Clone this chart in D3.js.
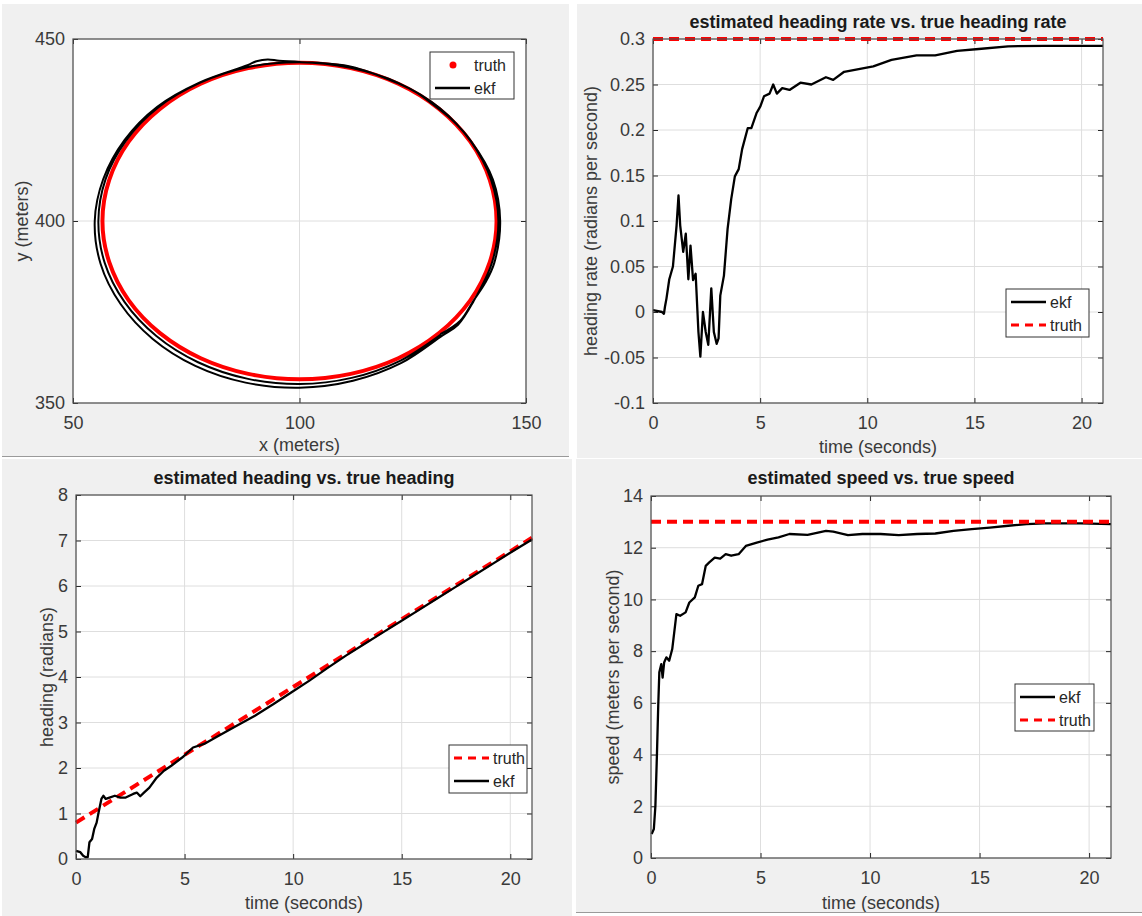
<!DOCTYPE html>
<html>
<head>
<meta charset="utf-8">
<script src="https://cdn.jsdelivr.net/npm/d3@7/dist/d3.min.js"></script>
<style>
    body { margin: 0; background: #fff; }
    svg text { font-family: "Liberation Sans", Arial, Helvetica, sans-serif; }
</style>
</head>
<body>
<div id="figure"></div>
<script>
// Config
const width = 1142;
const height = 916;

// Position track (x, y in meters)
const truthTrack = [
    [143.5, 400], [142.0, 411.3], [137.7, 421.8], [130.8, 430.8], [121.8, 437.7], [111.3, 442.0],
    [100, 443.5], [88.7, 442.0], [78.2, 437.7], [69.2, 430.8], [62.3, 421.8], [58.0, 411.3],
    [56.5, 400], [58.0, 388.7], [62.3, 378.2], [69.2, 369.2], [78.2, 362.3], [88.7, 358.0],
    [100, 356.5], [111.3, 358.0], [121.8, 362.3], [130.8, 369.2], [137.7, 378.2], [142.0, 388.7]
];
const ekfTrack = [
    [131.1, 368.9], [135.5, 372.6], [138.3, 377.9], [141.0, 383.0], [143.0, 388.5], [144.3, 400.0],
    [142.7, 411.4], [137.9, 421.9], [133.5, 428.0], [129.5, 432.0], [125.8, 435.3], [121.8, 437.8],
    [111.4, 442.4], [100, 443.7], [95.5, 444.0], [93.0, 444.4], [90.5, 443.9], [88.5, 442.8],
    [78.0, 438.1], [68.6, 431.4], [61.4, 422.3], [56.7, 411.6], [54.8, 400], [56.1, 388.2],
    [60.5, 377.2], [67.6, 367.6], [77.0, 360.2], [88.1, 355.6], [100, 354.2], [111.8, 356.1],
    [122.5, 361.0], [131.5, 368.5], [135.0, 371.5], [138.4, 377.9], [142.5, 388.6], [143.9, 400],
    [142.3, 411.3], [137.8, 421.9], [131.0, 431.0], [121.9, 437.9], [111.3, 442.1], [100, 443.6],
    [88.7, 442.3], [78.1, 438.0], [68.8, 431.2], [61.7, 422.1], [57.2, 411.5], [55.6, 400],
    [57.0, 388.5], [61.4, 377.7], [68.4, 368.4], [77.6, 361.2], [88.4, 356.7], [100, 355.2],
    [111.5, 356.9], [122.2, 361.6], [131.2, 368.8]
];

// Heading rate (time s, rad/s)
const rateEkf = [
    [0, 0.002], [0.42, 0], [0.51, -0.002], [0.56, 0.006], [0.63, 0.015], [0.76, 0.036], [0.93, 0.05],
    [1.1, 0.095], [1.19, 0.128], [1.27, 0.095], [1.41, 0.066], [1.53, 0.086], [1.65, 0.036],
    [1.75, 0.073], [1.87, 0.035], [1.99, 0.042], [2.12, -0.022], [2.21, -0.049], [2.33, 0],
    [2.46, -0.022], [2.58, -0.036], [2.72, 0.026], [2.84, -0.022], [2.97, -0.035], [3.06, -0.029],
    [3.14, 0.018], [3.31, 0.04], [3.48, 0.091], [3.65, 0.124], [3.82, 0.149], [4.0, 0.157],
    [4.16, 0.179], [4.42, 0.202], [4.59, 0.202], [4.84, 0.219], [5.01, 0.226], [5.18, 0.237],
    [5.44, 0.24], [5.61, 0.25], [5.78, 0.24], [6.03, 0.246], [6.37, 0.244], [6.88, 0.252],
    [7.39, 0.25], [8.07, 0.258], [8.41, 0.255], [8.92, 0.264], [9.6, 0.267], [10.28, 0.27],
    [11.13, 0.277], [12.3, 0.282], [13.17, 0.282], [14.19, 0.287], [15.2, 0.289], [16.57, 0.292],
    [18.27, 0.2924], [21, 0.2924]
];
const rateTruth = [[0, 0.3], [21, 0.3]];

// Heading (time s, rad)
const headingEkf = [
    [0, 0.18], [0.2, 0.15], [0.33, 0.07], [0.45, 0.04], [0.54, 0.04], [0.62, 0.37], [0.74, 0.44],
    [0.84, 0.66], [0.95, 0.8], [1.04, 1.02], [1.17, 1.32], [1.26, 1.39], [1.37, 1.32], [1.54, 1.35],
    [1.79, 1.39], [2.04, 1.35], [2.29, 1.35], [2.63, 1.43], [2.8, 1.46], [2.96, 1.38], [3.13, 1.46],
    [3.38, 1.57], [3.72, 1.79], [4.05, 1.94], [4.39, 2.05], [4.89, 2.23], [5.39, 2.45], [5.9, 2.53],
    [6.57, 2.71], [7.4, 2.93], [8.24, 3.15], [9.08, 3.4], [9.91, 3.66], [10.75, 3.92], [11.59, 4.2],
    [12.43, 4.47], [13.26, 4.72], [14.1, 4.97], [14.94, 5.22], [15.78, 5.47], [16.61, 5.72],
    [17.45, 5.97], [18.29, 6.22], [19.13, 6.47], [19.96, 6.72], [21, 7.02]
];
const headingTruth = [[0, 0.8], [21, 7.06]];

// Speed (time s, m/s)
const speedEkf = [
    [0.03, 0.93], [0.13, 1.12], [0.2, 2.0], [0.27, 3.96], [0.33, 5.89], [0.38, 7.18], [0.47, 7.5],
    [0.53, 6.98], [0.6, 7.56], [0.7, 7.76], [0.83, 7.63], [0.97, 8.08], [1.16, 9.43], [1.33, 9.37],
    [1.58, 9.5], [1.75, 9.88], [2.0, 10.08], [2.16, 10.53], [2.33, 10.59], [2.5, 11.3], [2.66, 11.43],
    [2.91, 11.62], [3.16, 11.58], [3.41, 11.75], [3.66, 11.69], [4.0, 11.75], [4.33, 12.07],
    [4.83, 12.2], [5.32, 12.31], [5.82, 12.4], [6.32, 12.53], [7.15, 12.5], [7.99, 12.65],
    [8.32, 12.62], [8.99, 12.49], [9.65, 12.53], [10.48, 12.53], [11.31, 12.49], [12.15, 12.53],
    [12.98, 12.55], [13.81, 12.65], [14.64, 12.72], [15.47, 12.78], [16.31, 12.85], [17.14, 12.91],
    [17.97, 12.94], [19.63, 12.94], [21, 12.91]
];
const speedTruth = [[0, 13], [21, 13]];

// Tick values
const trackXTicks = [50, 100, 150];
const trackYTicks = [350, 400, 450];
const timeTicks = [0, 5, 10, 15, 20];
const rateTicks = [-0.1, -0.05, 0, 0.05, 0.1, 0.15, 0.2, 0.25, 0.3];
const headingTicks = [0, 1, 2, 3, 4, 5, 6, 7, 8];
const speedTicks = [0, 2, 4, 6, 8, 10, 12, 14];

// Styles
const red = "#ff0000";
const ink = "#000000";
const labelColor = "#3a3a3a";

function init() {
    const svg = d3.select("#figure")
        .append("svg")
        .attr("width", width)
        .attr("height", height);
    window.svg = svg;

    drawPanel({
        bg: [2, 4, 567, 453],
        box: { left: 73, right: 526, top: 39, bottom: 403 },
        xDomain: [50, 150], yDomain: [350, 450],
        xTicks: trackXTicks, yTicks: trackYTicks,
        xLabel: "x (meters)", xLabelY: 445,
        yLabel: "y (meters)", yLabelX: 22,
        series: [
            { data: truthTrack, color: red, width: 4, curve: d3.curveCardinalClosed },
            { data: ekfTrack, color: ink, width: 2, curve: d3.curveCatmullRom }
        ],
        legend: { x: 430, y: 52, w: 84, h: 47, items: [
            { label: "truth", color: red, dot: true },
            { label: "ekf", color: ink, width: 2.3 }
        ] }
    });

    drawPanel({
        bg: [577, 4, 565, 454],
        box: { left: 653, right: 1103, top: 39, bottom: 403 },
        xDomain: [0, 21], yDomain: [-0.1, 0.3],
        xTicks: timeTicks, yTicks: rateTicks,
        title: "estimated heading rate vs. true heading rate", titleY: 22,
        xLabel: "time (seconds)", xLabelY: 447,
        yLabel: "heading rate (radians per second)", yLabelX: 591,
        series: [
            { data: rateEkf, color: ink, width: 2.3 },
            { data: rateTruth, color: red, width: 4, dash: "10,6" }
        ],
        legend: { x: 1006, y: 289, w: 83, h: 48, items: [
            { label: "ekf", color: ink, width: 2.3 },
            { label: "truth", color: red, width: 3, dash: "8,6" }
        ] }
    });

    drawPanel({
        bg: [2, 459, 570, 457],
        box: { left: 76, right: 532, top: 495, bottom: 859 },
        xDomain: [0, 21], yDomain: [0, 8],
        xTicks: timeTicks, yTicks: headingTicks,
        title: "estimated heading vs. true heading", titleY: 478,
        xLabel: "time (seconds)", xLabelY: 903,
        yLabel: "heading (radians)", yLabelX: 47,
        series: [
            { data: headingTruth, color: red, width: 4, dash: "10,6" },
            { data: headingEkf, color: ink, width: 2.3 }
        ],
        legend: { x: 449, y: 745, w: 78, h: 48, items: [
            { label: "truth", color: red, width: 3, dash: "8,6" },
            { label: "ekf", color: ink, width: 2.3 }
        ] }
    });

    drawPanel({
        bg: [576, 459, 566, 453],
        box: { left: 651, right: 1111, top: 496, bottom: 858 },
        xDomain: [0, 21], yDomain: [0, 14],
        xTicks: timeTicks, yTicks: speedTicks,
        title: "estimated speed vs. true speed", titleY: 478,
        xLabel: "time (seconds)", xLabelY: 903,
        yLabel: "speed (meters per second)", yLabelX: 613,
        series: [
            { data: speedEkf, color: ink, width: 2.3 },
            { data: speedTruth, color: red, width: 4, dash: "10,6" }
        ],
        legend: { x: 1015, y: 684, w: 79, h: 47, items: [
            { label: "ekf", color: ink, width: 2.3 },
            { label: "truth", color: red, width: 3, dash: "8,6" }
        ] }
    });

    // thin edge lines under two of the screenshots
    svg.append("line").attr("x1", 2).attr("x2", 569).attr("y1", 456.5).attr("y2", 456.5)
        .attr("stroke", "#9a9a9a");
    svg.append("line").attr("x1", 576).attr("x2", 1142).attr("y1", 912.5).attr("y2", 912.5)
        .attr("stroke", "#9a9a9a");
}

function fmt(d) {
    return String(+d.toFixed(2));
}

function drawPanel(p) {
    const svg = window.svg;
    const b = p.box;
    const g = svg.append("g");

    // Figure background
    g.append("rect")
        .attr("x", p.bg[0]).attr("y", p.bg[1])
        .attr("width", p.bg[2]).attr("height", p.bg[3])
        .attr("fill", "#f0f0f0");

    const x = d3.scaleLinear().domain(p.xDomain).range([b.left, b.right]);
    const y = d3.scaleLinear().domain(p.yDomain).range([b.bottom, b.top]);

    // Plot area
    g.append("rect")
        .attr("x", b.left).attr("y", b.top)
        .attr("width", b.right - b.left).attr("height", b.bottom - b.top)
        .attr("fill", "#fff");

    // Grid
    g.append("g")
        .selectAll("line")
        .data(p.xTicks)
        .join("line")
        .attr("x1", d => x(d)).attr("x2", d => x(d))
        .attr("y1", b.top).attr("y2", b.bottom)
        .attr("stroke", "#dedede");
    g.append("g")
        .selectAll("line")
        .data(p.yTicks)
        .join("line")
        .attr("y1", d => y(d)).attr("y2", d => y(d))
        .attr("x1", b.left).attr("x2", b.right)
        .attr("stroke", "#dedede");

    // Axes with inward ticks on all four sides
    const tick = 5;
    const bottom = g.append("g")
        .attr("transform", `translate(0,${b.bottom})`)
        .call(d3.axisBottom(x).tickValues(p.xTicks).tickFormat(fmt).tickSize(-tick).tickPadding(13));
    const left = g.append("g")
        .attr("transform", `translate(${b.left},0)`)
        .call(d3.axisLeft(y).tickValues(p.yTicks).tickFormat(fmt).tickSize(-tick).tickPadding(8));
    g.append("g")
        .attr("transform", `translate(0,${b.top})`)
        .call(d3.axisTop(x).tickValues(p.xTicks).tickFormat("").tickSize(-tick));
    g.append("g")
        .attr("transform", `translate(${b.right},0)`)
        .call(d3.axisRight(y).tickValues(p.yTicks).tickFormat("").tickSize(-tick));

    g.selectAll(".domain").remove();
    g.selectAll(".tick line").attr("stroke", "#262626");
    [bottom, left].forEach(a => a.selectAll("text")
        .attr("fill", labelColor)
        .style("font-size", "18px"));

    // Series
    p.series.forEach(s => {
        const line = d3.line()
            .x(d => x(d[0]))
            .y(d => y(d[1]))
            .curve(s.curve || d3.curveLinear);
        g.append("path")
            .datum(s.data)
            .attr("d", line)
            .attr("fill", "none")
            .attr("stroke", s.color)
            .attr("stroke-width", s.width)
            .attr("stroke-dasharray", s.dash || null)
            .attr("stroke-linejoin", "round");
    });

    // Box
    g.append("rect")
        .attr("x", b.left).attr("y", b.top)
        .attr("width", b.right - b.left).attr("height", b.bottom - b.top)
        .attr("fill", "none")
        .attr("stroke", "#4d4d4d")
        .attr("stroke-width", 1.2);

    // Title
    if (p.title) {
        g.append("text")
            .attr("x", (b.left + b.right) / 2)
            .attr("y", p.titleY)
            .attr("dy", "0.35em")
            .attr("text-anchor", "middle")
            .attr("font-weight", "bold")
            .attr("fill", "#1a1a1a")
            .style("font-size", "18px")
            .text(p.title);
    }

    // Axis labels
    g.append("text")
        .attr("x", (b.left + b.right) / 2)
        .attr("y", p.xLabelY)
        .attr("dy", "0.35em")
        .attr("text-anchor", "middle")
        .attr("fill", labelColor)
        .style("font-size", "18px")
        .text(p.xLabel);
    g.append("text")
        .attr("transform", `translate(${p.yLabelX},${(b.top + b.bottom) / 2}) rotate(-90)`)
        .attr("dy", "0.35em")
        .attr("text-anchor", "middle")
        .attr("fill", labelColor)
        .style("font-size", "18px")
        .text(p.yLabel);

    drawLegend(g, p.legend);
}

// Legend box
function drawLegend(g, lg) {
    const leg = g.append("g").attr("transform", `translate(${lg.x},${lg.y})`);
    leg.append("rect")
        .attr("width", lg.w).attr("height", lg.h)
        .attr("fill", "#fff")
        .attr("stroke", "#333")
        .attr("stroke-width", 1);

    lg.items.forEach((it, i) => {
        const cy = 13 + i * 23;
        if (it.dot) {
            leg.append("circle")
                .attr("cx", 23).attr("cy", cy).attr("r", 3.5)
                .attr("fill", it.color);
        } else {
            leg.append("line")
                .attr("x1", 5).attr("x2", 40)
                .attr("y1", cy).attr("y2", cy)
                .attr("stroke", it.color)
                .attr("stroke-width", it.width)
                .attr("stroke-dasharray", it.dash || null);
        }
        leg.append("text")
            .attr("x", 44).attr("y", cy)
            .attr("dy", "0.35em")
            .attr("fill", "#262626")
            .style("font-size", "16px")
            .text(it.label);
    });
}

document.addEventListener("DOMContentLoaded", init);
</script>
</body>
</html>
